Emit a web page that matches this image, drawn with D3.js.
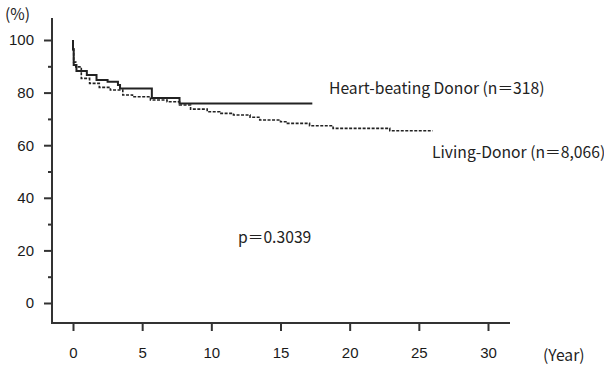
<!DOCTYPE html>
<html>
<head>
<meta charset="utf-8">
<script src="https://cdn.jsdelivr.net/npm/d3@7"></script>
<style>
body { margin: 0; background: #fff; }
svg { display: block; }
.tick text { font-family: "Liberation Sans", Arial, sans-serif; font-size: 15px; fill: #1a1a1a; }
.lbl { font-family: "Noto Sans CJK JP", "Liberation Sans", sans-serif; font-size: 15.7px; fill: #222; }
</style>
</head>
<body>
<svg id="chart" width="604" height="370"></svg>
<script>
// survival curves (years, %)
var heartYears = [0, 0, 0.05, 0.25, 0.65, 1.0, 1.7, 2.5, 3.25, 3.4, 5.7, 7.7, 17.3];
var heartSurv = [100, 96.6, 90.5, 88.2, 88.2, 86.7, 84.8, 84.1, 82.9, 81.6, 77.9, 75.9, 75.9];

var livingYears = [0, 0, 0.05, 0.2, 0.6, 1.2, 1.9, 2.7, 3.6, 4.3, 5.6, 6.8, 7.7, 8.5, 9.7, 10.6, 11.6, 12.8, 13.5, 15.0, 15.5, 17.1, 18.8, 22.9, 26.0];
var livingSurv = [100, 96.2, 91.6, 89.8, 85.4, 83.5, 82.0, 81.0, 79.1, 78.4, 77.2, 76.5, 75.3, 73.7, 72.7, 72.1, 71.5, 70.6, 69.6, 68.9, 68.3, 67.4, 66.4, 65.5, 65.5];

var xTicks = [0, 5, 10, 15, 20, 25, 30];
var yTicks = [0, 20, 40, 60, 80, 100];
var yMinor = [10, 30, 50, 70, 90];

var svg = d3.select("#chart");

var x = d3.scaleLinear().domain([0, 30]).range([73, 488]);
var y = d3.scaleLinear().domain([0, 100]).range([303, 40]);

var axisLeftX = 52, axisBottomY = 323;

//Y axis
var ya = svg.append("g")
    .attr("transform", "translate(" + axisLeftX + ",0)")
    .call(d3.axisLeft(y).tickValues(yTicks).tickSize(8).tickPadding(10));
ya.select(".domain").remove();
svg.append("g")
    .attr("transform", "translate(" + axisLeftX + ",0)")
    .call(d3.axisLeft(y).tickValues(yMinor).tickSize(4).tickFormat(""))
    .select(".domain").remove();
svg.append("line")
    .attr("x1", axisLeftX).attr("x2", axisLeftX)
    .attr("y1", 18).attr("y2", axisBottomY + 1)
    .attr("stroke", "#333").attr("stroke-width", 2);

//X axis
var xa = svg.append("g")
    .attr("transform", "translate(0," + axisBottomY + ")")
    .call(d3.axisBottom(x).tickValues(xTicks).tickSize(8).tickPadding(16));
xa.select(".domain").remove();
svg.append("line")
    .attr("x1", axisLeftX).attr("x2", 510)
    .attr("y1", axisBottomY).attr("y2", axisBottomY)
    .attr("stroke", "#333").attr("stroke-width", 2);

svg.selectAll(".tick line").attr("stroke", "#333").attr("stroke-width", 2);

//curves
var line = d3.line()
    .x(function(d) { return x(d[0]); })
    .y(function(d) { return y(d[1]); })
    .curve(d3.curveStepAfter);

svg.append("path")
    .datum(livingYears.map(function(t, i) { return [t, livingSurv[i]]; }))
    .attr("fill", "none")
    .attr("stroke", "#222")
    .attr("stroke-width", 1.6)
    .attr("stroke-dasharray", "3,1.5")
    .attr("d", line);

svg.append("path")
    .datum(heartYears.map(function(t, i) { return [t, heartSurv[i]]; }))
    .attr("fill", "none")
    .attr("stroke", "#222")
    .attr("stroke-width", 2)
    .attr("d", line);

//labels
svg.append("text").attr("class", "lbl").attr("x", 5).attr("y", 20).text("(%)");
svg.append("text").attr("class", "lbl").attr("x", 543).attr("y", 361).text("(Year)");
svg.append("text").attr("class", "lbl").attr("x", 329).attr("y", 94).text("Heart-beating Donor (n＝318)");
svg.append("text").attr("class", "lbl").attr("x", 432).attr("y", 158).text("Living-Donor (n＝8,066)");
svg.append("text").attr("class", "lbl").attr("x", 238).attr("y", 243).text("p＝0.3039");
</script>
</body>
</html>
